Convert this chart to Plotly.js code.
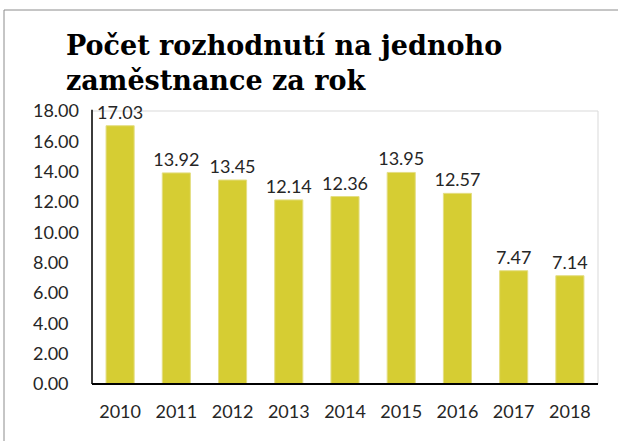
<!DOCTYPE html>
<html>
<head>
<meta charset="utf-8">
<script src="https://cdn.plot.ly/plotly-3.0.1.min.js"></script>
<style>
  html, body { margin: 0; padding: 0; background: #fff; }
  #chart { width: 618px; height: 441px; }
</style>
</head>
<body>
<div id="chart"></div>
<script>
const years = ['2010', '2011', '2012', '2013', '2014', '2015', '2016', '2017', '2018'];
const decisionsPerEmployee = [17.03, 13.92, 13.45, 12.14, 12.36, 13.95, 12.57, 7.47, 7.14];
const yTickValues = [0, 2, 4, 6, 8, 10, 12, 14, 16, 18];
const yTickLabels = ['0.00', '2.00', '4.00', '6.00', '8.00', '10.00', '12.00', '14.00', '16.00', '18.00'];
const chartTitle = 'Počet rozhodnutí na jednoho<br>zaměstnance za rok';

const maxLen = Math.max(...yTickLabels.map(s => s.length));
const paddedY = yTickLabels.map(s => s + '\u2007'.repeat(maxLen - s.length));

const W = 618, H = 441;
const L = 92, R = 20, T = 111, B = 57;
const pw = W - L - R, ph = H - T - B;

const tickFont = { family: 'Lato, sans-serif', size: 18, color: '#262626' };

const trace = {
  type: 'bar',
  x: years,
  y: decisionsPerEmployee,
  text: decisionsPerEmployee.map(v => v.toFixed(2)),
  textposition: 'outside',
  textfont: tickFont,
  constraintext: 'none',
  cliponaxis: false,
  marker: { color: '#D6CD33', line: { color: '#E4DE84', width: 1 } },
  hoverinfo: 'x+y'
};

const layout = {
  width: W, height: H,
  margin: { l: L, r: R, t: T, b: B, pad: 0 },
  paper_bgcolor: '#ffffff',
  plot_bgcolor: '#ffffff',
  showlegend: false,
  bargap: 0.5,
  title: {
    text: chartTitle,
    font: { family: 'DejaVu Serif, serif', size: 27, color: '#000000', weight: 'bold', lineheight: 1.4 },
    xref: 'container', yref: 'container',
    x: 66 / W, xanchor: 'left',
    y: 1 - 55 / H, yanchor: 'top'
  },
  xaxis: {
    type: 'category',
    showgrid: false,
    showline: false,
    zeroline: false,
    ticks: '',
    tickfont: tickFont,
    ticklabelstandoff: 15
  },
  yaxis: {
    range: [0, 18],
    tickvals: yTickValues,
    ticktext: paddedY,
    showgrid: false,
    showline: false,
    zeroline: false,
    ticks: '',
    tickfont: tickFont,
    ticklabelstandoff: 12
  },
  shapes: [
    { type: 'rect', xref: 'paper', yref: 'paper',
      x0: (4 - L) / pw, x1: (W + 10 - L) / pw,
      y0: (H - B - (H + 10)) / ph, y1: (H - B - 10) / ph,
      line: { color: '#8c8c8c', width: 1 }, fillcolor: 'rgba(0,0,0,0)', layer: 'below' },
    { type: 'rect', xref: 'paper', yref: 'paper', x0: 0, x1: 1, y0: 0, y1: 1,
      line: { color: '#D9D9D9', width: 1 }, fillcolor: 'rgba(0,0,0,0)', layer: 'below' },
    { type: 'line', xref: 'paper', yref: 'paper', x0: 0, x1: 0, y0: 0, y1: 1.005,
      line: { color: '#000000', width: 1.5 } },
    { type: 'line', xref: 'paper', yref: 'paper', x0: 0, x1: 1, y0: 0, y1: 0,
      line: { color: '#000000', width: 2 } }
  ]
};

Plotly.newPlot('chart', [trace], layout, { displayModeBar: false, staticPlot: true });
</script>
</body>
</html>
